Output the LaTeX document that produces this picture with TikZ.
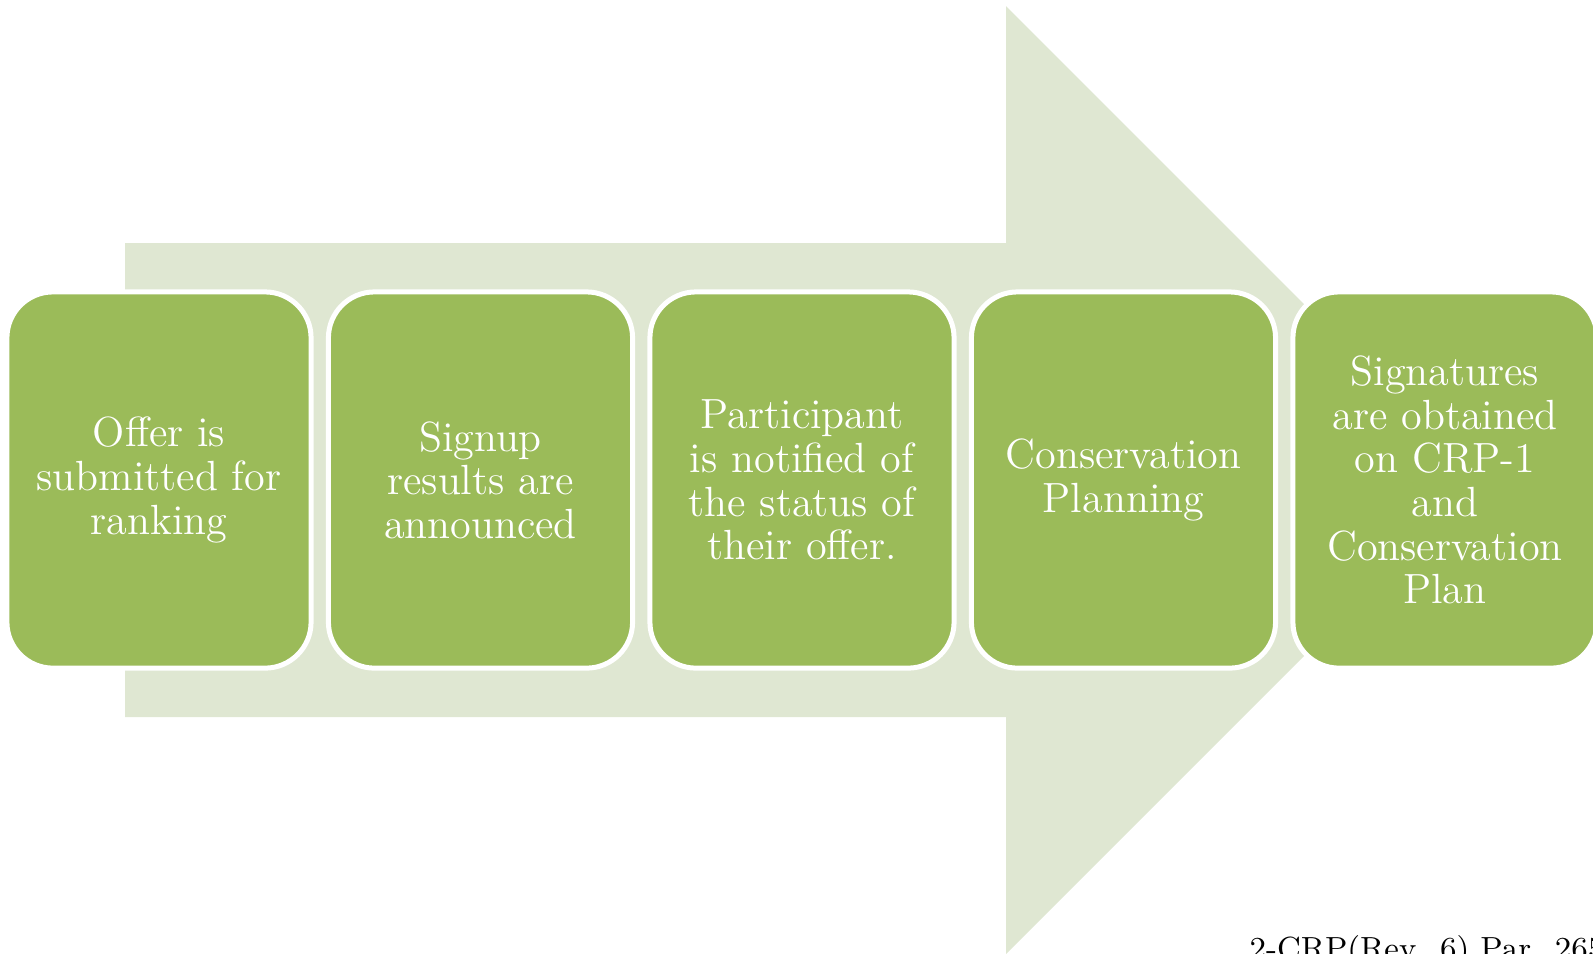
\documentclass[tikz,border=0pt]{standalone}
\usepackage{xcolor}
\usepackage{tikz}

\definecolor{stepgreen}{HTML}{9BBB59}
\definecolor{arrowpale}{HTML}{DFE7D2}

\tikzset{
    stepbox/.style={rectangle, rounded corners=0.46cm, fill=stepgreen, draw=white,
        line width=0.05cm, minimum width=3.04cm, minimum height=3.76cm,
        align=center, text=white, font=\fontsize{12}{12.4}\selectfont},
}

\begin{document}
\begin{tikzpicture}[x=0.01cm, y=-0.01cm]
                        \clip (0, 0) rectangle (1593, 953);

                        % big pale arrow behind the steps
                        \fill[arrowpale] (125, 243) -- (1006, 243) -- (1006, 6) -- (1480, 480)
                            -- (1006, 954) -- (1006, 717) -- (125, 717) -- cycle;

                        \foreach \i/\t in {1/{Offer is\\submitted for\\ranking},
                                           2/{Signup\\results are\\announced},
                                           3/{Participant\\is notified of\\the status of\\their offer.},
                                           4/{Conservation\\Planning},
                                           5/{Signatures\\are obtained\\on CRP-1\\and\\Conservation\\Plan}} {
                            \node (s\i) at (159 + 321.5*\i - 321.5, 480) [stepbox] {\t};
                        }

                        \node (ref) at (1249, 959) [anchor=base west, inner sep=0pt,
                            font=\fontsize{9.1}{11}\selectfont] {2-CRP(Rev. 6) Par. 265};
                    \end{tikzpicture}
\end{document}
